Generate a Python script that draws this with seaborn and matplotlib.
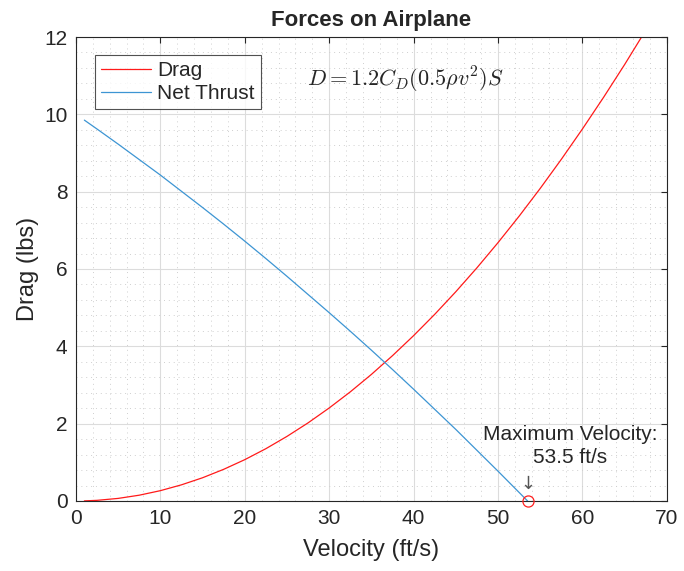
import numpy as np
import pandas as pd
import matplotlib
matplotlib.use('Agg')
import matplotlib.pyplot as plt
from matplotlib.ticker import MultipleLocator
import seaborn as sns

# values
drag_v = [1, 2.5, 5, 7.5, 10, 12.5, 15, 17.5, 20, 22.5, 25, 27.5, 30, 32.5, 35,
          37.5, 40, 42.5, 45, 47.5, 50, 52.5, 55, 57.5, 60, 62.5, 65, 67]
drag_lbs = [0.003, 0.017, 0.067, 0.150, 0.267, 0.418, 0.601, 0.819, 1.069, 1.353,
            1.671, 2.021, 2.406, 2.823, 3.274, 3.759, 4.277, 4.828, 5.413, 6.031,
            6.683, 7.367, 8.086, 8.838, 9.623, 10.44, 11.29, 12.0]

thrust_v = [1, 2.5, 5, 7.5, 10, 12.5, 15, 17.5, 20, 22.5, 25, 27.5, 30, 32.5, 35,
            37.5, 40, 42.5, 45, 47.5, 50, 52.5, 53.5]
thrust_lbs = [9.85, 9.62, 9.23, 8.83, 8.43, 8.01, 7.59, 7.16, 6.72, 6.27, 5.81,
              5.34, 4.87, 4.39, 3.90, 3.40, 2.89, 2.37, 1.85, 1.31, 0.77, 0.22, 0.0]

v_max = 53.5

sns.set_style('white')
plt.rcParams['font.family'] = ['Liberation Sans', 'DejaVu Sans']
plt.rcParams['mathtext.fontset'] = 'cm'

drag = pd.DataFrame({'v': drag_v, 'D': drag_lbs})
thrust = pd.DataFrame({'v': thrust_v, 'T': thrust_lbs})

fig = plt.figure(figsize=(6.84, 5.71), dpi=100)
ax = fig.add_axes([0.111, 0.1226, 0.864, 0.8126])

sns.lineplot(data=drag, x='v', y='D', ax=ax, color='#ff1a1a', lw=0.9, label='Drag')
sns.lineplot(data=thrust, x='v', y='T', ax=ax, color='#3d95d3', lw=0.9, label='Net Thrust')
ax.plot([v_max], [0], 'o', mfc='none', mec='#ff2020', ms=8, mew=0.9, clip_on=False, zorder=5)

ax.set_xlim(0, 70)
ax.set_ylim(0, 12)
ax.xaxis.set_major_locator(MultipleLocator(10))
ax.xaxis.set_minor_locator(MultipleLocator(2))
ax.yaxis.set_major_locator(MultipleLocator(2))
ax.yaxis.set_minor_locator(MultipleLocator(0.4))
ax.grid(which='major', color='#dcdcdc', lw=0.8)
ax.grid(which='minor', color='#cfcfcf', lw=0.7, ls=(0, (1, 4)))
ax.set_axisbelow(True)
for s in ax.spines.values():
    s.set_color('#262626')
    s.set_linewidth(0.8)
ax.tick_params(which='major', direction='in', length=4, labelsize=15, colors='#262626', pad=6)
ax.tick_params(which='minor', direction='in', length=0)
ax.tick_params(top=True, right=True, which='major')

ax.set_xlabel('Velocity (ft/s)', fontsize=17, color='#262626', labelpad=8)
ax.set_ylabel('Drag (lbs)', fontsize=17, color='#262626', labelpad=4)
ax.set_title('Forces on Airplane', fontsize=16, fontweight='bold', pad=8)

ax.text(39, 10.9, r'$D = 1.2C_D(0.5\rho v^2)S$', fontsize=16, ha='center', va='center')
ax.text(58.5, 1.42, 'Maximum Velocity:\n53.5 ft/s', fontsize=15, ha='center', va='center',
        linespacing=1.3)
ax.text(v_max, 0.45, '\u2193', fontsize=13, ha='center', va='center', color='#555555',
        family='DejaVu Sans')

leg = ax.legend(loc='upper left', bbox_to_anchor=(0.032, 0.962), fontsize=15, frameon=True,
                fancybox=False, edgecolor='#262626', handlelength=2.4, handletextpad=0.3,
                borderpad=0.3, labelspacing=0.2, borderaxespad=0)
leg.get_frame().set_linewidth(0.8)

fig.savefig('out.png', dpi=100)
